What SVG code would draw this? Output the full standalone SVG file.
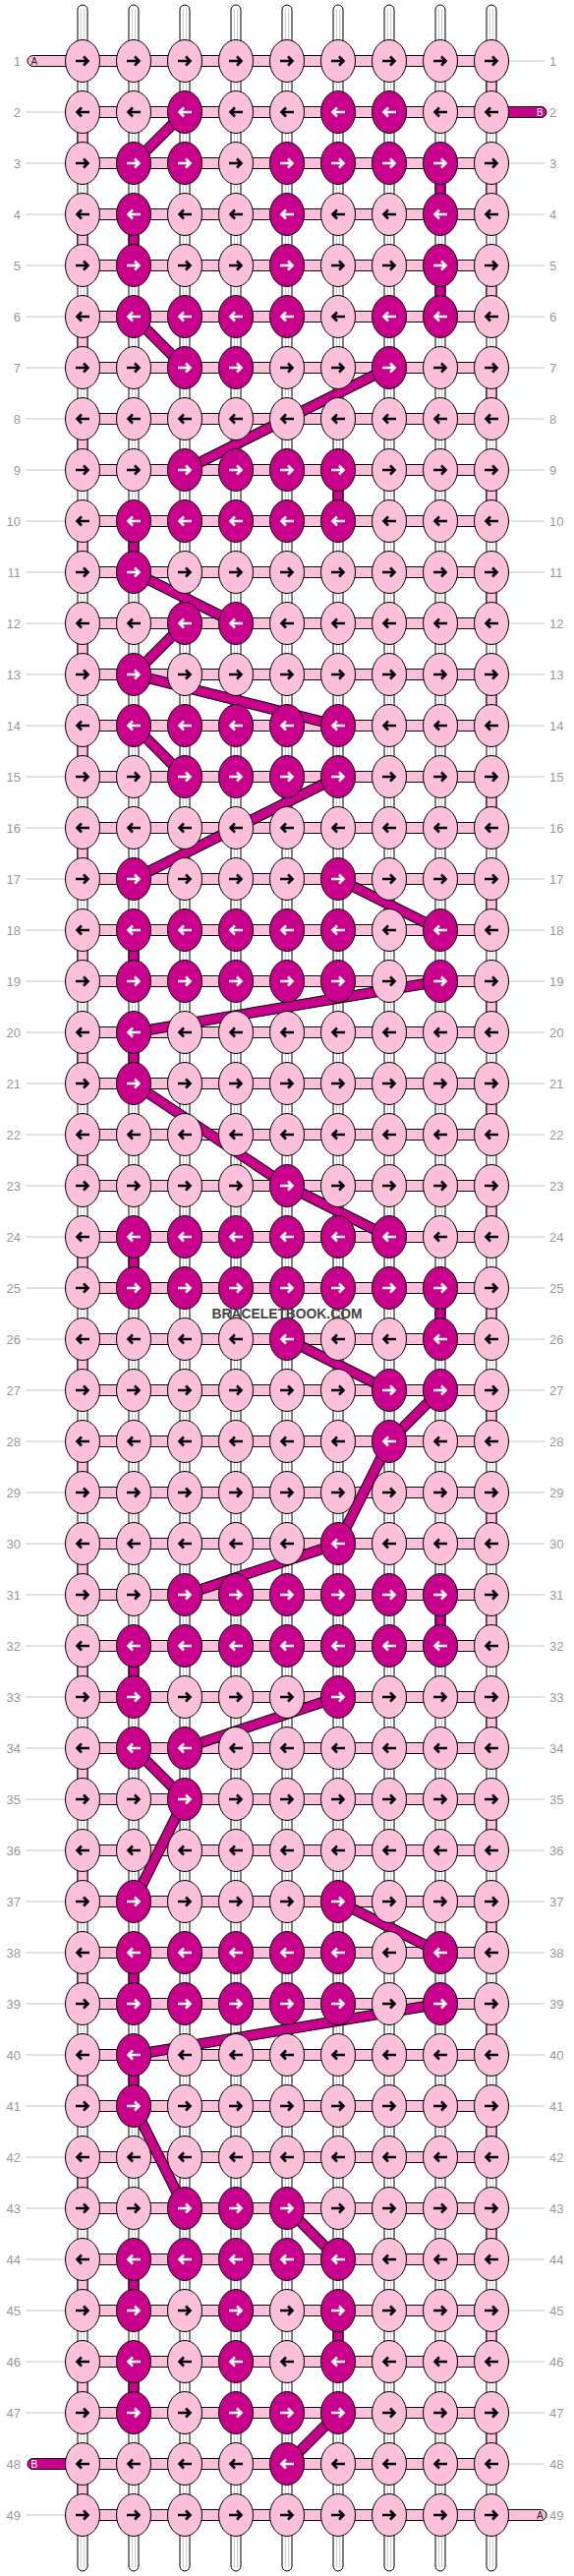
<svg xmlns="http://www.w3.org/2000/svg" xmlns:xlink="http://www.w3.org/1999/xlink" width="584" height="2620" viewBox="0 0 584 2620">
<style>
.num{font-family:"Liberation Sans",Arial,sans-serif;font-size:13px;fill:#999}
.le{text-anchor:end}
.gl{stroke:#c4c4c4;stroke-width:1;fill:none}
.hb{fill:#fcc0da;stroke:#000;stroke-width:1}
.st{fill:#fff;stroke:#000;stroke-width:1}
.il{stroke:#c8c8c8;stroke-width:1;fill:none}
.vp{fill:#fcc0da;stroke:#000;stroke-width:1}
.vm{fill:#c8008c;stroke:#000;stroke-width:1}
.dk{stroke:#000;stroke-width:11;fill:none}
.dm{stroke:#c8008c;stroke-width:9;fill:none}
.bt{font-family:"Liberation Sans",Arial,sans-serif;font-size:10px}
</style>
<defs>
<g id="pr"><ellipse rx="17.5" ry="21.5" fill="#fcc0da" stroke="#000"/><path d="M-7 0H5M1 -4.5L5.5 0L1 4.5" stroke="#000" stroke-width="2.6" fill="none"/></g>
<g id="pl"><ellipse rx="17.5" ry="21.5" fill="#fcc0da" stroke="#000"/><path d="M7 0H-5M-1 -4.5L-5.5 0L-1 4.5" stroke="#000" stroke-width="2.6" fill="none"/></g>
<g id="mr"><ellipse rx="17.5" ry="21.5" fill="#c8008c" stroke="#000"/><path d="M-7 0H5M1 -4.5L5.5 0L1 4.5" stroke="#fff" stroke-width="2.6" fill="none"/></g>
<g id="ml"><ellipse rx="17.5" ry="21.5" fill="#c8008c" stroke="#000"/><path d="M7 0H-5M-1 -4.5L-5.5 0L-1 4.5" stroke="#fff" stroke-width="2.6" fill="none"/></g>
<g id="strand"><rect x="-5" y="5" width="10" height="2610" rx="5" class="st"/><path d="M-1.7 9V2611M1.7 9V2611" class="il"/></g>
</defs>

<g id="labels">
<path class="gl" d="M26 114H66M26 166H66M26 218H66M26 270H66M26 322H66M26 374H66M26 426H66M26 478H66M26 530H66M26 582H66M26 634H66M26 686H66M26 738H66M26 790H66M26 842H66M26 894H66M26 946H66M26 998H66M26 1050H66M26 1102H66M26 1154H66M26 1206H66M26 1258H66M26 1310H66M26 1362H66M26 1414H66M26 1466H66M26 1518H66M26 1570H66M26 1622H66M26 1674H66M26 1726H66M26 1778H66M26 1830H66M26 1882H66M26 1934H66M26 1986H66M26 2038H66M26 2090H66M26 2142H66M26 2194H66M26 2246H66M26 2298H66M26 2350H66M26 2402H66M26 2454H66M26 2558H66"/>
<path class="gl" d="M518 62H554M518 166H554M518 218H554M518 270H554M518 322H554M518 374H554M518 426H554M518 478H554M518 530H554M518 582H554M518 634H554M518 686H554M518 738H554M518 790H554M518 842H554M518 894H554M518 946H554M518 998H554M518 1050H554M518 1102H554M518 1154H554M518 1206H554M518 1258H554M518 1310H554M518 1362H554M518 1414H554M518 1466H554M518 1518H554M518 1570H554M518 1622H554M518 1674H554M518 1726H554M518 1778H554M518 1830H554M518 1882H554M518 1934H554M518 1986H554M518 2038H554M518 2090H554M518 2142H554M518 2194H554M518 2246H554M518 2298H554M518 2350H554M518 2402H554M518 2454H554M518 2506H554"/>
<g class="num le">
<text x="21" y="66.5">1</text><text x="21" y="118.5">2</text><text x="21" y="170.5">3</text><text x="21" y="222.5">4</text><text x="21" y="274.5">5</text><text x="21" y="326.5">6</text><text x="21" y="378.5">7</text><text x="21" y="430.5">8</text><text x="21" y="482.5">9</text><text x="21" y="534.5">10</text>
<text x="21" y="586.5">11</text><text x="21" y="638.5">12</text><text x="21" y="690.5">13</text><text x="21" y="742.5">14</text><text x="21" y="794.5">15</text><text x="21" y="846.5">16</text><text x="21" y="898.5">17</text><text x="21" y="950.5">18</text><text x="21" y="1002.5">19</text><text x="21" y="1054.5">20</text>
<text x="21" y="1106.5">21</text><text x="21" y="1158.5">22</text><text x="21" y="1210.5">23</text><text x="21" y="1262.5">24</text><text x="21" y="1314.5">25</text><text x="21" y="1366.5">26</text><text x="21" y="1418.5">27</text><text x="21" y="1470.5">28</text><text x="21" y="1522.5">29</text><text x="21" y="1574.5">30</text>
<text x="21" y="1626.5">31</text><text x="21" y="1678.5">32</text><text x="21" y="1730.5">33</text><text x="21" y="1782.5">34</text><text x="21" y="1834.5">35</text><text x="21" y="1886.5">36</text><text x="21" y="1938.5">37</text><text x="21" y="1990.5">38</text><text x="21" y="2042.5">39</text><text x="21" y="2094.5">40</text>
<text x="21" y="2146.5">41</text><text x="21" y="2198.5">42</text><text x="21" y="2250.5">43</text><text x="21" y="2302.5">44</text><text x="21" y="2354.5">45</text><text x="21" y="2406.5">46</text><text x="21" y="2458.5">47</text><text x="21" y="2510.5">48</text><text x="21" y="2562.5">49</text>
</g>
<g class="num">
<text x="559" y="66.5">1</text><text x="559" y="118.5">2</text><text x="559" y="170.5">3</text><text x="559" y="222.5">4</text><text x="559" y="274.5">5</text><text x="559" y="326.5">6</text><text x="559" y="378.5">7</text><text x="559" y="430.5">8</text><text x="559" y="482.5">9</text><text x="559" y="534.5">10</text>
<text x="559" y="586.5">11</text><text x="559" y="638.5">12</text><text x="559" y="690.5">13</text><text x="559" y="742.5">14</text><text x="559" y="794.5">15</text><text x="559" y="846.5">16</text><text x="559" y="898.5">17</text><text x="559" y="950.5">18</text><text x="559" y="1002.5">19</text><text x="559" y="1054.5">20</text>
<text x="559" y="1106.5">21</text><text x="559" y="1158.5">22</text><text x="559" y="1210.5">23</text><text x="559" y="1262.5">24</text><text x="559" y="1314.5">25</text><text x="559" y="1366.5">26</text><text x="559" y="1418.5">27</text><text x="559" y="1470.5">28</text><text x="559" y="1522.5">29</text><text x="559" y="1574.5">30</text>
<text x="559" y="1626.5">31</text><text x="559" y="1678.5">32</text><text x="559" y="1730.5">33</text><text x="559" y="1782.5">34</text><text x="559" y="1834.5">35</text><text x="559" y="1886.5">36</text><text x="559" y="1938.5">37</text><text x="559" y="1990.5">38</text><text x="559" y="2042.5">39</text><text x="559" y="2094.5">40</text>
<text x="559" y="2146.5">41</text><text x="559" y="2198.5">42</text><text x="559" y="2250.5">43</text><text x="559" y="2302.5">44</text><text x="559" y="2354.5">45</text><text x="559" y="2406.5">46</text><text x="559" y="2458.5">47</text><text x="559" y="2510.5">48</text><text x="559" y="2562.5">49</text>
</g>
</g>

<g id="connectors">
<use href="#strand" x="84"/><use href="#strand" x="136"/><use href="#strand" x="188"/><use href="#strand" x="240"/><use href="#strand" x="292"/><use href="#strand" x="344"/><use href="#strand" x="396"/><use href="#strand" x="448"/><use href="#strand" x="500"/>
<g id="ends">
<rect x="28" y="56.5" width="60" height="11" rx="5.5" class="vp"/>
<text x="31.5" y="65.5" class="bt" fill="#222">A</text>
<rect x="496" y="108.5" width="60" height="11" rx="5.5" class="vm"/>
<text x="546" y="117.5" class="bt" fill="#fff">B</text>
<rect x="28" y="2500.5" width="60" height="11" rx="5.5" class="vm"/>
<text x="31.5" y="2509.5" class="bt" fill="#fff">B</text>
<rect x="496" y="2552.5" width="60" height="11" rx="5.5" class="vp"/>
<text x="546" y="2561.5" class="bt" fill="#222">A</text>
</g>
<g id="pinkv">
<rect class="vp" x="495" y="62" width="10" height="52"/><rect class="vp" x="79" y="114" width="10" height="52"/><rect class="vp" x="495" y="166" width="10" height="52"/><rect class="vp" x="79" y="218" width="10" height="52"/><rect class="vp" x="495" y="270" width="10" height="52"/><rect class="vp" x="79" y="322" width="10" height="52"/><rect class="vp" x="495" y="374" width="10" height="52"/><rect class="vp" x="79" y="426" width="10" height="52"/><rect class="vp" x="495" y="478" width="10" height="52"/><rect class="vp" x="79" y="530" width="10" height="52"/>
<rect class="vp" x="495" y="582" width="10" height="52"/><rect class="vp" x="79" y="634" width="10" height="52"/><rect class="vp" x="495" y="686" width="10" height="52"/><rect class="vp" x="79" y="738" width="10" height="52"/><rect class="vp" x="495" y="790" width="10" height="52"/><rect class="vp" x="79" y="842" width="10" height="52"/><rect class="vp" x="495" y="894" width="10" height="52"/><rect class="vp" x="79" y="946" width="10" height="52"/><rect class="vp" x="495" y="998" width="10" height="52"/><rect class="vp" x="79" y="1050" width="10" height="52"/>
<rect class="vp" x="495" y="1102" width="10" height="52"/><rect class="vp" x="79" y="1154" width="10" height="52"/><rect class="vp" x="495" y="1206" width="10" height="52"/><rect class="vp" x="79" y="1258" width="10" height="52"/><rect class="vp" x="495" y="1310" width="10" height="52"/><rect class="vp" x="79" y="1362" width="10" height="52"/><rect class="vp" x="495" y="1414" width="10" height="52"/><rect class="vp" x="79" y="1466" width="10" height="52"/><rect class="vp" x="495" y="1518" width="10" height="52"/><rect class="vp" x="79" y="1570" width="10" height="52"/>
<rect class="vp" x="495" y="1622" width="10" height="52"/><rect class="vp" x="79" y="1674" width="10" height="52"/><rect class="vp" x="495" y="1726" width="10" height="52"/><rect class="vp" x="79" y="1778" width="10" height="52"/><rect class="vp" x="495" y="1830" width="10" height="52"/><rect class="vp" x="79" y="1882" width="10" height="52"/><rect class="vp" x="495" y="1934" width="10" height="52"/><rect class="vp" x="79" y="1986" width="10" height="52"/><rect class="vp" x="495" y="2038" width="10" height="52"/><rect class="vp" x="79" y="2090" width="10" height="52"/>
<rect class="vp" x="495" y="2142" width="10" height="52"/><rect class="vp" x="79" y="2194" width="10" height="52"/><rect class="vp" x="495" y="2246" width="10" height="52"/><rect class="vp" x="79" y="2298" width="10" height="52"/><rect class="vp" x="495" y="2350" width="10" height="52"/><rect class="vp" x="79" y="2402" width="10" height="52"/><rect class="vp" x="495" y="2454" width="10" height="52"/><rect class="vp" x="79" y="2506" width="10" height="52"/>
</g>
<g id="magv">
<rect class="vm" x="443" y="166" width="10" height="52"/><rect class="vm" x="131" y="218" width="10" height="52"/><rect class="vm" x="443" y="270" width="10" height="52"/><rect class="vm" x="339" y="478" width="10" height="52"/><rect class="vm" x="131" y="530" width="10" height="52"/><rect class="vm" x="131" y="946" width="10" height="52"/><rect class="vm" x="131" y="1050" width="10" height="52"/><rect class="vm" x="131" y="1258" width="10" height="52"/>
<rect class="vm" x="443" y="1310" width="10" height="52"/><rect class="vm" x="443" y="1622" width="10" height="52"/><rect class="vm" x="131" y="1674" width="10" height="52"/><rect class="vm" x="131" y="1986" width="10" height="52"/><rect class="vm" x="131" y="2090" width="10" height="52"/><rect class="vm" x="131" y="2298" width="10" height="52"/><rect class="vm" x="339" y="2350" width="10" height="52"/><rect class="vm" x="131" y="2402" width="10" height="52"/>
</g>
<g id="rowbars">
<rect class="hb" x="84" y="56.5" width="416" height="11"/><rect class="hb" x="84" y="108.5" width="416" height="11"/><rect class="hb" x="84" y="160.5" width="416" height="11"/><rect class="hb" x="84" y="212.5" width="416" height="11"/><rect class="hb" x="84" y="264.5" width="416" height="11"/><rect class="hb" x="84" y="316.5" width="416" height="11"/><rect class="hb" x="84" y="368.5" width="416" height="11"/><rect class="hb" x="84" y="420.5" width="416" height="11"/><rect class="hb" x="84" y="472.5" width="416" height="11"/><rect class="hb" x="84" y="524.5" width="416" height="11"/>
<rect class="hb" x="84" y="576.5" width="416" height="11"/><rect class="hb" x="84" y="628.5" width="416" height="11"/><rect class="hb" x="84" y="680.5" width="416" height="11"/><rect class="hb" x="84" y="732.5" width="416" height="11"/><rect class="hb" x="84" y="784.5" width="416" height="11"/><rect class="hb" x="84" y="836.5" width="416" height="11"/><rect class="hb" x="84" y="888.5" width="416" height="11"/><rect class="hb" x="84" y="940.5" width="416" height="11"/><rect class="hb" x="84" y="992.5" width="416" height="11"/><rect class="hb" x="84" y="1044.5" width="416" height="11"/>
<rect class="hb" x="84" y="1096.5" width="416" height="11"/><rect class="hb" x="84" y="1148.5" width="416" height="11"/><rect class="hb" x="84" y="1200.5" width="416" height="11"/><rect class="hb" x="84" y="1252.5" width="416" height="11"/><rect class="hb" x="84" y="1304.5" width="416" height="11"/><rect class="hb" x="84" y="1356.5" width="416" height="11"/><rect class="hb" x="84" y="1408.5" width="416" height="11"/><rect class="hb" x="84" y="1460.5" width="416" height="11"/><rect class="hb" x="84" y="1512.5" width="416" height="11"/><rect class="hb" x="84" y="1564.5" width="416" height="11"/>
<rect class="hb" x="84" y="1616.5" width="416" height="11"/><rect class="hb" x="84" y="1668.5" width="416" height="11"/><rect class="hb" x="84" y="1720.5" width="416" height="11"/><rect class="hb" x="84" y="1772.5" width="416" height="11"/><rect class="hb" x="84" y="1824.5" width="416" height="11"/><rect class="hb" x="84" y="1876.5" width="416" height="11"/><rect class="hb" x="84" y="1928.5" width="416" height="11"/><rect class="hb" x="84" y="1980.5" width="416" height="11"/><rect class="hb" x="84" y="2032.5" width="416" height="11"/><rect class="hb" x="84" y="2084.5" width="416" height="11"/>
<rect class="hb" x="84" y="2136.5" width="416" height="11"/><rect class="hb" x="84" y="2188.5" width="416" height="11"/><rect class="hb" x="84" y="2240.5" width="416" height="11"/><rect class="hb" x="84" y="2292.5" width="416" height="11"/><rect class="hb" x="84" y="2344.5" width="416" height="11"/><rect class="hb" x="84" y="2396.5" width="416" height="11"/><rect class="hb" x="84" y="2448.5" width="416" height="11"/><rect class="hb" x="84" y="2500.5" width="416" height="11"/><rect class="hb" x="84" y="2552.5" width="416" height="11"/>
</g>
<g id="diagonals">
<path class="dk" d="M188 114L136 166M136 322L188 374M396 374L188 478M136 582L240 634M188 634L136 686M136 686L344 738M136 738L188 790M344 790L136 894M344 894L448 946M448 998L136 1050M136 1102L292 1206M292 1206L396 1258M292 1362L396 1414M448 1414L396 1466M396 1466L344 1570M344 1570L188 1622M344 1726L188 1778M136 1778L188 1830M188 1830L136 1934M344 1934L448 1986M448 2038L136 2090M136 2142L188 2246M292 2246L344 2298M344 2454L292 2506"/>
<path class="dm" d="M188 114L136 166M136 322L188 374M396 374L188 478M136 582L240 634M188 634L136 686M136 686L344 738M136 738L188 790M344 790L136 894M344 894L448 946M448 998L136 1050M136 1102L292 1206M292 1206L396 1258M292 1362L396 1414M448 1414L396 1466M396 1466L344 1570M344 1570L188 1622M344 1726L188 1778M136 1778L188 1830M188 1830L136 1934M344 1934L448 1986M448 2038L136 2090M136 2142L188 2246M292 2246L344 2298M344 2454L292 2506"/>
</g>
</g>

<g id="nodes">
<g transform="translate(0,62)"><g id="n1-1"><use href="#pr" x="84"/></g><g id="n1-2"><use href="#pr" x="136"/></g><g id="n1-3"><use href="#pr" x="188"/></g><g id="n1-4"><use href="#pr" x="240"/></g><g id="n1-5"><use href="#pr" x="292"/></g><g id="n1-6"><use href="#pr" x="344"/></g><g id="n1-7"><use href="#pr" x="396"/></g><g id="n1-8"><use href="#pr" x="448"/></g><g id="n1-9"><use href="#pr" x="500"/></g></g>
<g transform="translate(0,114)"><g id="n2-1"><use href="#pl" x="84"/></g><g id="n2-2"><use href="#pl" x="136"/></g><g id="n2-3"><use href="#ml" x="188"/></g><g id="n2-4"><use href="#pl" x="240"/></g><g id="n2-5"><use href="#pl" x="292"/></g><g id="n2-6"><use href="#ml" x="344"/></g><g id="n2-7"><use href="#ml" x="396"/></g><g id="n2-8"><use href="#pl" x="448"/></g><g id="n2-9"><use href="#pl" x="500"/></g></g>
<g transform="translate(0,166)"><g id="n3-1"><use href="#pr" x="84"/></g><g id="n3-2"><use href="#mr" x="136"/></g><g id="n3-3"><use href="#mr" x="188"/></g><g id="n3-4"><use href="#pr" x="240"/></g><g id="n3-5"><use href="#mr" x="292"/></g><g id="n3-6"><use href="#mr" x="344"/></g><g id="n3-7"><use href="#mr" x="396"/></g><g id="n3-8"><use href="#mr" x="448"/></g><g id="n3-9"><use href="#pr" x="500"/></g></g>
<g transform="translate(0,218)"><g id="n4-1"><use href="#pl" x="84"/></g><g id="n4-2"><use href="#ml" x="136"/></g><g id="n4-3"><use href="#pl" x="188"/></g><g id="n4-4"><use href="#pl" x="240"/></g><g id="n4-5"><use href="#ml" x="292"/></g><g id="n4-6"><use href="#pl" x="344"/></g><g id="n4-7"><use href="#pl" x="396"/></g><g id="n4-8"><use href="#ml" x="448"/></g><g id="n4-9"><use href="#pl" x="500"/></g></g>
<g transform="translate(0,270)"><g id="n5-1"><use href="#pr" x="84"/></g><g id="n5-2"><use href="#mr" x="136"/></g><g id="n5-3"><use href="#pr" x="188"/></g><g id="n5-4"><use href="#pr" x="240"/></g><g id="n5-5"><use href="#mr" x="292"/></g><g id="n5-6"><use href="#pr" x="344"/></g><g id="n5-7"><use href="#pr" x="396"/></g><g id="n5-8"><use href="#mr" x="448"/></g><g id="n5-9"><use href="#pr" x="500"/></g></g>
<g transform="translate(0,322)"><g id="n6-1"><use href="#pl" x="84"/></g><g id="n6-2"><use href="#ml" x="136"/></g><g id="n6-3"><use href="#ml" x="188"/></g><g id="n6-4"><use href="#ml" x="240"/></g><g id="n6-5"><use href="#ml" x="292"/></g><g id="n6-6"><use href="#pl" x="344"/></g><g id="n6-7"><use href="#ml" x="396"/></g><g id="n6-8"><use href="#ml" x="448"/></g><g id="n6-9"><use href="#pl" x="500"/></g></g>
<g transform="translate(0,374)"><g id="n7-1"><use href="#pr" x="84"/></g><g id="n7-2"><use href="#pr" x="136"/></g><g id="n7-3"><use href="#mr" x="188"/></g><g id="n7-4"><use href="#mr" x="240"/></g><g id="n7-5"><use href="#pr" x="292"/></g><g id="n7-6"><use href="#pr" x="344"/></g><g id="n7-7"><use href="#mr" x="396"/></g><g id="n7-8"><use href="#pr" x="448"/></g><g id="n7-9"><use href="#pr" x="500"/></g></g>
<g transform="translate(0,426)"><g id="n8-1"><use href="#pl" x="84"/></g><g id="n8-2"><use href="#pl" x="136"/></g><g id="n8-3"><use href="#pl" x="188"/></g><g id="n8-4"><use href="#pl" x="240"/></g><g id="n8-5"><use href="#pl" x="292"/></g><g id="n8-6"><use href="#pl" x="344"/></g><g id="n8-7"><use href="#pl" x="396"/></g><g id="n8-8"><use href="#pl" x="448"/></g><g id="n8-9"><use href="#pl" x="500"/></g></g>
<g transform="translate(0,478)"><g id="n9-1"><use href="#pr" x="84"/></g><g id="n9-2"><use href="#pr" x="136"/></g><g id="n9-3"><use href="#mr" x="188"/></g><g id="n9-4"><use href="#mr" x="240"/></g><g id="n9-5"><use href="#mr" x="292"/></g><g id="n9-6"><use href="#mr" x="344"/></g><g id="n9-7"><use href="#pr" x="396"/></g><g id="n9-8"><use href="#pr" x="448"/></g><g id="n9-9"><use href="#pr" x="500"/></g></g>
<g transform="translate(0,530)"><g id="n10-1"><use href="#pl" x="84"/></g><g id="n10-2"><use href="#ml" x="136"/></g><g id="n10-3"><use href="#ml" x="188"/></g><g id="n10-4"><use href="#ml" x="240"/></g><g id="n10-5"><use href="#ml" x="292"/></g><g id="n10-6"><use href="#ml" x="344"/></g><g id="n10-7"><use href="#pl" x="396"/></g><g id="n10-8"><use href="#pl" x="448"/></g><g id="n10-9"><use href="#pl" x="500"/></g></g>
<g transform="translate(0,582)"><g id="n11-1"><use href="#pr" x="84"/></g><g id="n11-2"><use href="#mr" x="136"/></g><g id="n11-3"><use href="#pr" x="188"/></g><g id="n11-4"><use href="#pr" x="240"/></g><g id="n11-5"><use href="#pr" x="292"/></g><g id="n11-6"><use href="#pr" x="344"/></g><g id="n11-7"><use href="#pr" x="396"/></g><g id="n11-8"><use href="#pr" x="448"/></g><g id="n11-9"><use href="#pr" x="500"/></g></g>
<g transform="translate(0,634)"><g id="n12-1"><use href="#pl" x="84"/></g><g id="n12-2"><use href="#pl" x="136"/></g><g id="n12-3"><use href="#ml" x="188"/></g><g id="n12-4"><use href="#ml" x="240"/></g><g id="n12-5"><use href="#pl" x="292"/></g><g id="n12-6"><use href="#pl" x="344"/></g><g id="n12-7"><use href="#pl" x="396"/></g><g id="n12-8"><use href="#pl" x="448"/></g><g id="n12-9"><use href="#pl" x="500"/></g></g>
<g transform="translate(0,686)"><g id="n13-1"><use href="#pr" x="84"/></g><g id="n13-2"><use href="#mr" x="136"/></g><g id="n13-3"><use href="#pr" x="188"/></g><g id="n13-4"><use href="#pr" x="240"/></g><g id="n13-5"><use href="#pr" x="292"/></g><g id="n13-6"><use href="#pr" x="344"/></g><g id="n13-7"><use href="#pr" x="396"/></g><g id="n13-8"><use href="#pr" x="448"/></g><g id="n13-9"><use href="#pr" x="500"/></g></g>
<g transform="translate(0,738)"><g id="n14-1"><use href="#pl" x="84"/></g><g id="n14-2"><use href="#ml" x="136"/></g><g id="n14-3"><use href="#ml" x="188"/></g><g id="n14-4"><use href="#ml" x="240"/></g><g id="n14-5"><use href="#ml" x="292"/></g><g id="n14-6"><use href="#ml" x="344"/></g><g id="n14-7"><use href="#pl" x="396"/></g><g id="n14-8"><use href="#pl" x="448"/></g><g id="n14-9"><use href="#pl" x="500"/></g></g>
<g transform="translate(0,790)"><g id="n15-1"><use href="#pr" x="84"/></g><g id="n15-2"><use href="#pr" x="136"/></g><g id="n15-3"><use href="#mr" x="188"/></g><g id="n15-4"><use href="#mr" x="240"/></g><g id="n15-5"><use href="#mr" x="292"/></g><g id="n15-6"><use href="#mr" x="344"/></g><g id="n15-7"><use href="#pr" x="396"/></g><g id="n15-8"><use href="#pr" x="448"/></g><g id="n15-9"><use href="#pr" x="500"/></g></g>
<g transform="translate(0,842)"><g id="n16-1"><use href="#pl" x="84"/></g><g id="n16-2"><use href="#pl" x="136"/></g><g id="n16-3"><use href="#pl" x="188"/></g><g id="n16-4"><use href="#pl" x="240"/></g><g id="n16-5"><use href="#pl" x="292"/></g><g id="n16-6"><use href="#pl" x="344"/></g><g id="n16-7"><use href="#pl" x="396"/></g><g id="n16-8"><use href="#pl" x="448"/></g><g id="n16-9"><use href="#pl" x="500"/></g></g>
<g transform="translate(0,894)"><g id="n17-1"><use href="#pr" x="84"/></g><g id="n17-2"><use href="#mr" x="136"/></g><g id="n17-3"><use href="#pr" x="188"/></g><g id="n17-4"><use href="#pr" x="240"/></g><g id="n17-5"><use href="#pr" x="292"/></g><g id="n17-6"><use href="#mr" x="344"/></g><g id="n17-7"><use href="#pr" x="396"/></g><g id="n17-8"><use href="#pr" x="448"/></g><g id="n17-9"><use href="#pr" x="500"/></g></g>
<g transform="translate(0,946)"><g id="n18-1"><use href="#pl" x="84"/></g><g id="n18-2"><use href="#ml" x="136"/></g><g id="n18-3"><use href="#ml" x="188"/></g><g id="n18-4"><use href="#ml" x="240"/></g><g id="n18-5"><use href="#ml" x="292"/></g><g id="n18-6"><use href="#ml" x="344"/></g><g id="n18-7"><use href="#pl" x="396"/></g><g id="n18-8"><use href="#ml" x="448"/></g><g id="n18-9"><use href="#pl" x="500"/></g></g>
<g transform="translate(0,998)"><g id="n19-1"><use href="#pr" x="84"/></g><g id="n19-2"><use href="#mr" x="136"/></g><g id="n19-3"><use href="#mr" x="188"/></g><g id="n19-4"><use href="#mr" x="240"/></g><g id="n19-5"><use href="#mr" x="292"/></g><g id="n19-6"><use href="#mr" x="344"/></g><g id="n19-7"><use href="#pr" x="396"/></g><g id="n19-8"><use href="#mr" x="448"/></g><g id="n19-9"><use href="#pr" x="500"/></g></g>
<g transform="translate(0,1050)"><g id="n20-1"><use href="#pl" x="84"/></g><g id="n20-2"><use href="#ml" x="136"/></g><g id="n20-3"><use href="#pl" x="188"/></g><g id="n20-4"><use href="#pl" x="240"/></g><g id="n20-5"><use href="#pl" x="292"/></g><g id="n20-6"><use href="#pl" x="344"/></g><g id="n20-7"><use href="#pl" x="396"/></g><g id="n20-8"><use href="#pl" x="448"/></g><g id="n20-9"><use href="#pl" x="500"/></g></g>
<g transform="translate(0,1102)"><g id="n21-1"><use href="#pr" x="84"/></g><g id="n21-2"><use href="#mr" x="136"/></g><g id="n21-3"><use href="#pr" x="188"/></g><g id="n21-4"><use href="#pr" x="240"/></g><g id="n21-5"><use href="#pr" x="292"/></g><g id="n21-6"><use href="#pr" x="344"/></g><g id="n21-7"><use href="#pr" x="396"/></g><g id="n21-8"><use href="#pr" x="448"/></g><g id="n21-9"><use href="#pr" x="500"/></g></g>
<g transform="translate(0,1154)"><g id="n22-1"><use href="#pl" x="84"/></g><g id="n22-2"><use href="#pl" x="136"/></g><g id="n22-3"><use href="#pl" x="188"/></g><g id="n22-4"><use href="#pl" x="240"/></g><g id="n22-5"><use href="#pl" x="292"/></g><g id="n22-6"><use href="#pl" x="344"/></g><g id="n22-7"><use href="#pl" x="396"/></g><g id="n22-8"><use href="#pl" x="448"/></g><g id="n22-9"><use href="#pl" x="500"/></g></g>
<g transform="translate(0,1206)"><g id="n23-1"><use href="#pr" x="84"/></g><g id="n23-2"><use href="#pr" x="136"/></g><g id="n23-3"><use href="#pr" x="188"/></g><g id="n23-4"><use href="#pr" x="240"/></g><g id="n23-5"><use href="#mr" x="292"/></g><g id="n23-6"><use href="#pr" x="344"/></g><g id="n23-7"><use href="#pr" x="396"/></g><g id="n23-8"><use href="#pr" x="448"/></g><g id="n23-9"><use href="#pr" x="500"/></g></g>
<g transform="translate(0,1258)"><g id="n24-1"><use href="#pl" x="84"/></g><g id="n24-2"><use href="#ml" x="136"/></g><g id="n24-3"><use href="#ml" x="188"/></g><g id="n24-4"><use href="#ml" x="240"/></g><g id="n24-5"><use href="#ml" x="292"/></g><g id="n24-6"><use href="#ml" x="344"/></g><g id="n24-7"><use href="#ml" x="396"/></g><g id="n24-8"><use href="#pl" x="448"/></g><g id="n24-9"><use href="#pl" x="500"/></g></g>
<g transform="translate(0,1310)"><g id="n25-1"><use href="#pr" x="84"/></g><g id="n25-2"><use href="#mr" x="136"/></g><g id="n25-3"><use href="#mr" x="188"/></g><g id="n25-4"><use href="#mr" x="240"/></g><g id="n25-5"><use href="#mr" x="292"/></g><g id="n25-6"><use href="#mr" x="344"/></g><g id="n25-7"><use href="#mr" x="396"/></g><g id="n25-8"><use href="#mr" x="448"/></g><g id="n25-9"><use href="#pr" x="500"/></g></g>
<g transform="translate(0,1362)"><g id="n26-1"><use href="#pl" x="84"/></g><g id="n26-2"><use href="#pl" x="136"/></g><g id="n26-3"><use href="#pl" x="188"/></g><g id="n26-4"><use href="#pl" x="240"/></g><g id="n26-5"><use href="#ml" x="292"/></g><g id="n26-6"><use href="#pl" x="344"/></g><g id="n26-7"><use href="#pl" x="396"/></g><g id="n26-8"><use href="#ml" x="448"/></g><g id="n26-9"><use href="#pl" x="500"/></g></g>
<g transform="translate(0,1414)"><g id="n27-1"><use href="#pr" x="84"/></g><g id="n27-2"><use href="#pr" x="136"/></g><g id="n27-3"><use href="#pr" x="188"/></g><g id="n27-4"><use href="#pr" x="240"/></g><g id="n27-5"><use href="#pr" x="292"/></g><g id="n27-6"><use href="#pr" x="344"/></g><g id="n27-7"><use href="#mr" x="396"/></g><g id="n27-8"><use href="#mr" x="448"/></g><g id="n27-9"><use href="#pr" x="500"/></g></g>
<g transform="translate(0,1466)"><g id="n28-1"><use href="#pl" x="84"/></g><g id="n28-2"><use href="#pl" x="136"/></g><g id="n28-3"><use href="#pl" x="188"/></g><g id="n28-4"><use href="#pl" x="240"/></g><g id="n28-5"><use href="#pl" x="292"/></g><g id="n28-6"><use href="#pl" x="344"/></g><g id="n28-7"><use href="#ml" x="396"/></g><g id="n28-8"><use href="#pl" x="448"/></g><g id="n28-9"><use href="#pl" x="500"/></g></g>
<g transform="translate(0,1518)"><g id="n29-1"><use href="#pr" x="84"/></g><g id="n29-2"><use href="#pr" x="136"/></g><g id="n29-3"><use href="#pr" x="188"/></g><g id="n29-4"><use href="#pr" x="240"/></g><g id="n29-5"><use href="#pr" x="292"/></g><g id="n29-6"><use href="#pr" x="344"/></g><g id="n29-7"><use href="#pr" x="396"/></g><g id="n29-8"><use href="#pr" x="448"/></g><g id="n29-9"><use href="#pr" x="500"/></g></g>
<g transform="translate(0,1570)"><g id="n30-1"><use href="#pl" x="84"/></g><g id="n30-2"><use href="#pl" x="136"/></g><g id="n30-3"><use href="#pl" x="188"/></g><g id="n30-4"><use href="#pl" x="240"/></g><g id="n30-5"><use href="#pl" x="292"/></g><g id="n30-6"><use href="#ml" x="344"/></g><g id="n30-7"><use href="#pl" x="396"/></g><g id="n30-8"><use href="#pl" x="448"/></g><g id="n30-9"><use href="#pl" x="500"/></g></g>
<g transform="translate(0,1622)"><g id="n31-1"><use href="#pr" x="84"/></g><g id="n31-2"><use href="#pr" x="136"/></g><g id="n31-3"><use href="#mr" x="188"/></g><g id="n31-4"><use href="#mr" x="240"/></g><g id="n31-5"><use href="#mr" x="292"/></g><g id="n31-6"><use href="#mr" x="344"/></g><g id="n31-7"><use href="#mr" x="396"/></g><g id="n31-8"><use href="#mr" x="448"/></g><g id="n31-9"><use href="#pr" x="500"/></g></g>
<g transform="translate(0,1674)"><g id="n32-1"><use href="#pl" x="84"/></g><g id="n32-2"><use href="#ml" x="136"/></g><g id="n32-3"><use href="#ml" x="188"/></g><g id="n32-4"><use href="#ml" x="240"/></g><g id="n32-5"><use href="#ml" x="292"/></g><g id="n32-6"><use href="#ml" x="344"/></g><g id="n32-7"><use href="#ml" x="396"/></g><g id="n32-8"><use href="#ml" x="448"/></g><g id="n32-9"><use href="#pl" x="500"/></g></g>
<g transform="translate(0,1726)"><g id="n33-1"><use href="#pr" x="84"/></g><g id="n33-2"><use href="#mr" x="136"/></g><g id="n33-3"><use href="#pr" x="188"/></g><g id="n33-4"><use href="#pr" x="240"/></g><g id="n33-5"><use href="#pr" x="292"/></g><g id="n33-6"><use href="#mr" x="344"/></g><g id="n33-7"><use href="#pr" x="396"/></g><g id="n33-8"><use href="#pr" x="448"/></g><g id="n33-9"><use href="#pr" x="500"/></g></g>
<g transform="translate(0,1778)"><g id="n34-1"><use href="#pl" x="84"/></g><g id="n34-2"><use href="#ml" x="136"/></g><g id="n34-3"><use href="#ml" x="188"/></g><g id="n34-4"><use href="#pl" x="240"/></g><g id="n34-5"><use href="#pl" x="292"/></g><g id="n34-6"><use href="#pl" x="344"/></g><g id="n34-7"><use href="#pl" x="396"/></g><g id="n34-8"><use href="#pl" x="448"/></g><g id="n34-9"><use href="#pl" x="500"/></g></g>
<g transform="translate(0,1830)"><g id="n35-1"><use href="#pr" x="84"/></g><g id="n35-2"><use href="#pr" x="136"/></g><g id="n35-3"><use href="#mr" x="188"/></g><g id="n35-4"><use href="#pr" x="240"/></g><g id="n35-5"><use href="#pr" x="292"/></g><g id="n35-6"><use href="#pr" x="344"/></g><g id="n35-7"><use href="#pr" x="396"/></g><g id="n35-8"><use href="#pr" x="448"/></g><g id="n35-9"><use href="#pr" x="500"/></g></g>
<g transform="translate(0,1882)"><g id="n36-1"><use href="#pl" x="84"/></g><g id="n36-2"><use href="#pl" x="136"/></g><g id="n36-3"><use href="#pl" x="188"/></g><g id="n36-4"><use href="#pl" x="240"/></g><g id="n36-5"><use href="#pl" x="292"/></g><g id="n36-6"><use href="#pl" x="344"/></g><g id="n36-7"><use href="#pl" x="396"/></g><g id="n36-8"><use href="#pl" x="448"/></g><g id="n36-9"><use href="#pl" x="500"/></g></g>
<g transform="translate(0,1934)"><g id="n37-1"><use href="#pr" x="84"/></g><g id="n37-2"><use href="#mr" x="136"/></g><g id="n37-3"><use href="#pr" x="188"/></g><g id="n37-4"><use href="#pr" x="240"/></g><g id="n37-5"><use href="#pr" x="292"/></g><g id="n37-6"><use href="#mr" x="344"/></g><g id="n37-7"><use href="#pr" x="396"/></g><g id="n37-8"><use href="#pr" x="448"/></g><g id="n37-9"><use href="#pr" x="500"/></g></g>
<g transform="translate(0,1986)"><g id="n38-1"><use href="#pl" x="84"/></g><g id="n38-2"><use href="#ml" x="136"/></g><g id="n38-3"><use href="#ml" x="188"/></g><g id="n38-4"><use href="#ml" x="240"/></g><g id="n38-5"><use href="#ml" x="292"/></g><g id="n38-6"><use href="#ml" x="344"/></g><g id="n38-7"><use href="#pl" x="396"/></g><g id="n38-8"><use href="#ml" x="448"/></g><g id="n38-9"><use href="#pl" x="500"/></g></g>
<g transform="translate(0,2038)"><g id="n39-1"><use href="#pr" x="84"/></g><g id="n39-2"><use href="#mr" x="136"/></g><g id="n39-3"><use href="#mr" x="188"/></g><g id="n39-4"><use href="#mr" x="240"/></g><g id="n39-5"><use href="#mr" x="292"/></g><g id="n39-6"><use href="#mr" x="344"/></g><g id="n39-7"><use href="#pr" x="396"/></g><g id="n39-8"><use href="#mr" x="448"/></g><g id="n39-9"><use href="#pr" x="500"/></g></g>
<g transform="translate(0,2090)"><g id="n40-1"><use href="#pl" x="84"/></g><g id="n40-2"><use href="#ml" x="136"/></g><g id="n40-3"><use href="#pl" x="188"/></g><g id="n40-4"><use href="#pl" x="240"/></g><g id="n40-5"><use href="#pl" x="292"/></g><g id="n40-6"><use href="#pl" x="344"/></g><g id="n40-7"><use href="#pl" x="396"/></g><g id="n40-8"><use href="#pl" x="448"/></g><g id="n40-9"><use href="#pl" x="500"/></g></g>
<g transform="translate(0,2142)"><g id="n41-1"><use href="#pr" x="84"/></g><g id="n41-2"><use href="#mr" x="136"/></g><g id="n41-3"><use href="#pr" x="188"/></g><g id="n41-4"><use href="#pr" x="240"/></g><g id="n41-5"><use href="#pr" x="292"/></g><g id="n41-6"><use href="#pr" x="344"/></g><g id="n41-7"><use href="#pr" x="396"/></g><g id="n41-8"><use href="#pr" x="448"/></g><g id="n41-9"><use href="#pr" x="500"/></g></g>
<g transform="translate(0,2194)"><g id="n42-1"><use href="#pl" x="84"/></g><g id="n42-2"><use href="#pl" x="136"/></g><g id="n42-3"><use href="#pl" x="188"/></g><g id="n42-4"><use href="#pl" x="240"/></g><g id="n42-5"><use href="#pl" x="292"/></g><g id="n42-6"><use href="#pl" x="344"/></g><g id="n42-7"><use href="#pl" x="396"/></g><g id="n42-8"><use href="#pl" x="448"/></g><g id="n42-9"><use href="#pl" x="500"/></g></g>
<g transform="translate(0,2246)"><g id="n43-1"><use href="#pr" x="84"/></g><g id="n43-2"><use href="#pr" x="136"/></g><g id="n43-3"><use href="#mr" x="188"/></g><g id="n43-4"><use href="#mr" x="240"/></g><g id="n43-5"><use href="#mr" x="292"/></g><g id="n43-6"><use href="#pr" x="344"/></g><g id="n43-7"><use href="#pr" x="396"/></g><g id="n43-8"><use href="#pr" x="448"/></g><g id="n43-9"><use href="#pr" x="500"/></g></g>
<g transform="translate(0,2298)"><g id="n44-1"><use href="#pl" x="84"/></g><g id="n44-2"><use href="#ml" x="136"/></g><g id="n44-3"><use href="#ml" x="188"/></g><g id="n44-4"><use href="#ml" x="240"/></g><g id="n44-5"><use href="#ml" x="292"/></g><g id="n44-6"><use href="#ml" x="344"/></g><g id="n44-7"><use href="#pl" x="396"/></g><g id="n44-8"><use href="#pl" x="448"/></g><g id="n44-9"><use href="#pl" x="500"/></g></g>
<g transform="translate(0,2350)"><g id="n45-1"><use href="#pr" x="84"/></g><g id="n45-2"><use href="#mr" x="136"/></g><g id="n45-3"><use href="#pr" x="188"/></g><g id="n45-4"><use href="#mr" x="240"/></g><g id="n45-5"><use href="#pr" x="292"/></g><g id="n45-6"><use href="#mr" x="344"/></g><g id="n45-7"><use href="#pr" x="396"/></g><g id="n45-8"><use href="#pr" x="448"/></g><g id="n45-9"><use href="#pr" x="500"/></g></g>
<g transform="translate(0,2402)"><g id="n46-1"><use href="#pl" x="84"/></g><g id="n46-2"><use href="#ml" x="136"/></g><g id="n46-3"><use href="#pl" x="188"/></g><g id="n46-4"><use href="#ml" x="240"/></g><g id="n46-5"><use href="#pl" x="292"/></g><g id="n46-6"><use href="#ml" x="344"/></g><g id="n46-7"><use href="#pl" x="396"/></g><g id="n46-8"><use href="#pl" x="448"/></g><g id="n46-9"><use href="#pl" x="500"/></g></g>
<g transform="translate(0,2454)"><g id="n47-1"><use href="#pr" x="84"/></g><g id="n47-2"><use href="#mr" x="136"/></g><g id="n47-3"><use href="#pr" x="188"/></g><g id="n47-4"><use href="#mr" x="240"/></g><g id="n47-5"><use href="#mr" x="292"/></g><g id="n47-6"><use href="#mr" x="344"/></g><g id="n47-7"><use href="#pr" x="396"/></g><g id="n47-8"><use href="#pr" x="448"/></g><g id="n47-9"><use href="#pr" x="500"/></g></g>
<g transform="translate(0,2506)"><g id="n48-1"><use href="#pl" x="84"/></g><g id="n48-2"><use href="#pl" x="136"/></g><g id="n48-3"><use href="#pl" x="188"/></g><g id="n48-4"><use href="#pl" x="240"/></g><g id="n48-5"><use href="#ml" x="292"/></g><g id="n48-6"><use href="#pl" x="344"/></g><g id="n48-7"><use href="#pl" x="396"/></g><g id="n48-8"><use href="#pl" x="448"/></g><g id="n48-9"><use href="#pl" x="500"/></g></g>
<g transform="translate(0,2558)"><g id="n49-1"><use href="#pr" x="84"/></g><g id="n49-2"><use href="#pr" x="136"/></g><g id="n49-3"><use href="#pr" x="188"/></g><g id="n49-4"><use href="#pr" x="240"/></g><g id="n49-5"><use href="#pr" x="292"/></g><g id="n49-6"><use href="#pr" x="344"/></g><g id="n49-7"><use href="#pr" x="396"/></g><g id="n49-8"><use href="#pr" x="448"/></g><g id="n49-9"><use href="#pr" x="500"/></g></g>
</g>

<text x="292" y="1341" text-anchor="middle" font-family="Liberation Sans, Arial, sans-serif" font-weight="bold" font-size="15" fill="#444" textLength="153" lengthAdjust="spacingAndGlyphs">BRACELETBOOK.COM</text>
</svg>
